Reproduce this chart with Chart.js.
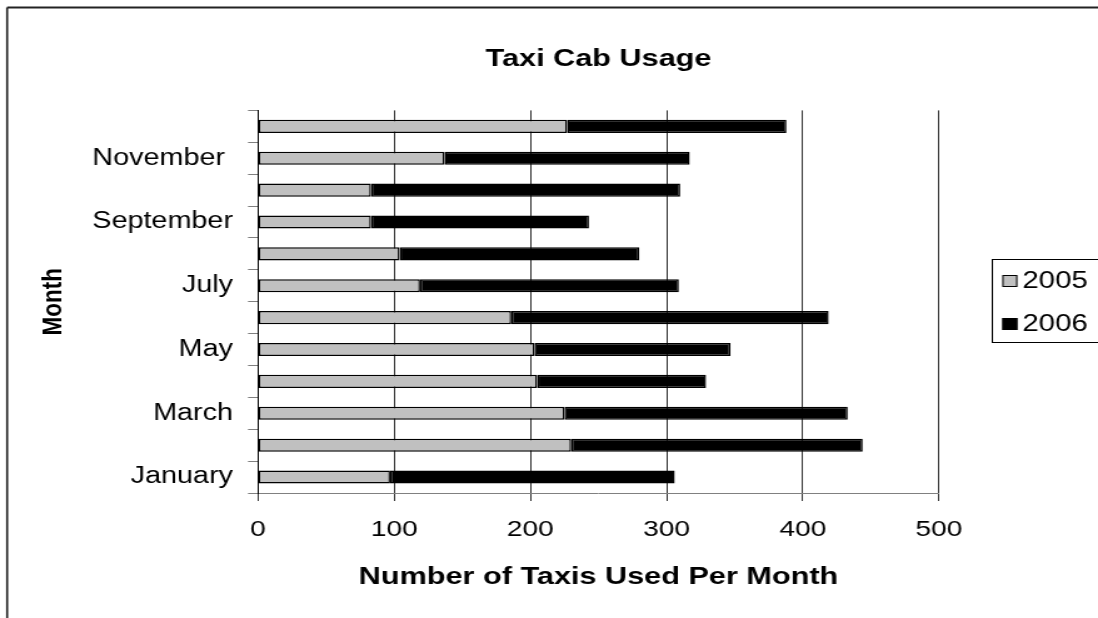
<!DOCTYPE html>
<html>
<head>
    <title>Taxi Cab Usage</title>
    <meta charset="utf-8">
    <script src="https://cdn.jsdelivr.net/npm/chart.js"></script>
    <style>
        body {
            margin: 0;
            background: #ffffff;
            overflow: hidden;
        }
        /* the chart is drawn 878 wide and stretched out to 1098 */
        .chart-container {
            width: 878px;
            height: 618px;
            transform: scaleX(1.2506);
            transform-origin: 0 0;
        }
    </style>
</head>
<body>
    <div class="chart-container">
        <canvas id="chart" width="878" height="618"></canvas>
    </div>

    <script>
        const months = ['January', 'February', 'March', 'April', 'May', 'June',
            'July', 'August', 'September', 'October', 'November ', 'December'];
        const taxis2005 = [97, 230, 225, 205, 203, 186, 119, 104, 83, 83, 137, 227];
        const taxis2006 = [209, 214, 208, 124, 144, 233, 190, 176, 160, 227, 180, 161];
        const xTicks = [0, 100, 200, 300, 400, 500];

        const FONT = "'Liberation Sans', Arial, sans-serif";

        // plot area edges inside the 878 wide canvas
        const PLOT_LEFT = 206.3;
        const PLOT_BOTTOM = 493;

        // outer frame and boxed legend
        const framePlugin = {
            id: 'frame',
            afterDraw(chart) {
                const ctx = chart.ctx;
                ctx.save();
                ctx.strokeStyle = '#222';
                ctx.lineWidth = 2;
                ctx.beginPath();
                ctx.moveTo(5.7, 7.5);
                ctx.lineTo(chart.width + 5, 7.5);
                ctx.stroke();
                ctx.lineWidth = 1.6;
                ctx.beginPath();
                ctx.moveTo(5.7, 7.5);
                ctx.lineTo(5.7, chart.height + 5);
                ctx.stroke();

                // legend
                const boxLeft = 793.5, boxTop = 259.5, boxBottom = 342.5;
                ctx.lineWidth = 1;
                ctx.strokeStyle = '#000';
                ctx.strokeRect(boxLeft, boxTop, 120, boxBottom - boxTop);
                ctx.font = '23.5px ' + FONT;
                ctx.textBaseline = 'middle';
                ctx.textAlign = 'left';
                chart.data.datasets.forEach((ds, i) => {
                    const cy = 281 + i * 43;
                    ctx.fillStyle = ds.backgroundColor;
                    ctx.fillRect(801.5, cy - 6, 12, 12);
                    ctx.strokeRect(802, cy - 5.5, 11, 11);
                    ctx.fillStyle = '#000';
                    ctx.fillText(ds.label, 817.5, cy + 1);
                });
                ctx.restore();
            }
        };

        const ctx = document.getElementById('chart').getContext('2d');
        const chart = new Chart(ctx, {
            type: 'bar',
            data: {
                labels: months,
                datasets: [{
                    label: '2005',
                    data: taxis2005,
                    backgroundColor: '#C0C0C0',
                    borderColor: '#000',
                    borderWidth: 1.5,
                    borderSkipped: false
                }, {
                    label: '2006',
                    data: taxis2006,
                    backgroundColor: '#000000',
                    borderColor: '#000',
                    borderWidth: 1.5,
                    borderSkipped: false
                }]
            },
            options: {
                indexAxis: 'y',
                responsive: false,
                animation: false,
                devicePixelRatio: 1,
                datasets: {
                    bar: {
                        categoryPercentage: 1,
                        barPercentage: 0.41
                    }
                },
                layout: {
                    padding: { left: 0, right: 127.2, top: 10, bottom: 26 }
                },
                plugins: {
                    legend: { display: false },
                    tooltip: { enabled: false },
                    title: {
                        display: true,
                        text: 'Taxi Cab Usage',
                        color: '#000',
                        fullSize: false,
                        font: { family: FONT, size: 24.5, weight: 'bold' },
                        padding: { top: 34.5, bottom: 36.5 }
                    }
                },
                scales: {
                    x: {
                        stacked: true,
                        min: 0,
                        max: 500,
                        afterBuildTicks(scale) {
                            scale.ticks = xTicks.map(v => ({ value: v }));
                        },
                        afterFit(scale) {
                            scale.height = 618 - 26 - PLOT_BOTTOM;
                        },
                        grid: {
                            color: '#000',
                            lineWidth: 0.8,
                            tickLength: 8
                        },
                        border: { color: '#808080', width: 1 },
                        ticks: {
                            color: '#000',
                            padding: 15.5,
                            font: { family: FONT, size: 22.5 }
                        },
                        title: {
                            display: true,
                            text: 'Number of Taxis Used Per Month',
                            color: '#000',
                            font: { family: FONT, size: 24.5, weight: 'bold' },
                            padding: { top: 0, bottom: 0 }
                        }
                    },
                    y: {
                        stacked: true,
                        reverse: true,
                        afterFit(scale) {
                            scale.width = PLOT_LEFT;
                        },
                        grid: {
                            drawOnChartArea: false,
                            color: '#808080',
                            tickLength: 8,
                            offset: true
                        },
                        border: { color: '#000', width: 1 },
                        ticks: {
                            color: '#000',
                            padding: 12,
                            autoSkip: false,
                            font: { family: FONT, size: 23 },
                            callback: function(value, index) {
                                return index % 2 === 0 ? this.getLabelForValue(value) : '';
                            }
                        },
                        title: {
                            display: true,
                            text: 'Month',
                            color: '#000',
                            font: { family: FONT, size: 22.5, weight: 'bold' },
                            padding: { top: 29, bottom: 0 }
                        }
                    }
                }
            },
            plugins: [framePlugin]
        });
    </script>
</body>
</html>
